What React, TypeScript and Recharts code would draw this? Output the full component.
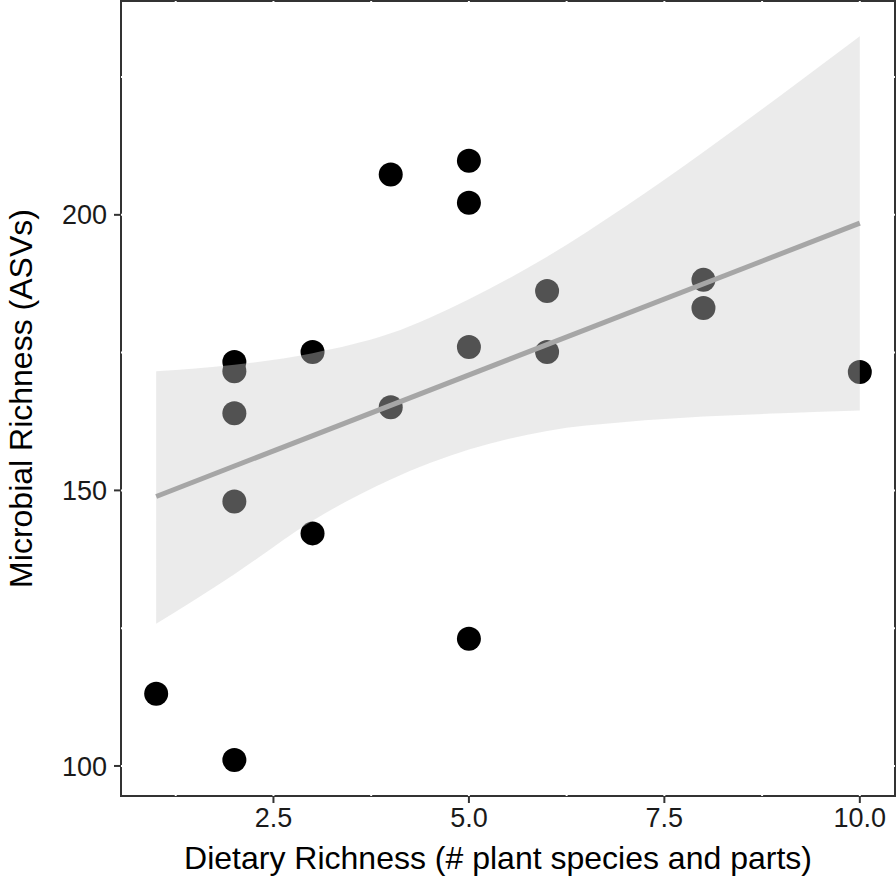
import React from 'react';
import {
  ComposedChart,
  Scatter,
  Area,
  Line,
  XAxis,
  YAxis,
  ReferenceArea,
  ReferenceLine,
} from 'recharts';

// observed samples
const dietaryRichness = [1, 2, 2, 2, 2, 2, 3, 3, 4, 4, 5, 5, 5, 5, 6, 6, 8, 8, 10];
const microbialRichness = [
  113.1, 101.1, 173.3, 171.6, 164.0, 148.0, 175.1, 142.2, 207.3, 165.1,
  209.8, 202.2, 176.0, 123.1, 186.2, 175.1, 188.2, 183.1, 171.5,
];

// lm fit and 95% band
const fitX = [1, 10];
const fitY = [148.9, 198.5];
const bandX = [1, 2, 3, 4, 5, 6, 7, 8, 9, 10];
const bandLow = [125.8, 134.8, 144.5, 152.0, 157.4, 160.8, 162.4, 163.4, 164.0, 164.5];
const bandHigh = [171.6, 172.8, 174.9, 178.5, 184.7, 192.4, 201.5, 211.4, 221.8, 232.4];

const xTicks = [2.5, 5, 7.5, 10];
const yTicks = [100, 150, 200];
const xGrid = [1.25, 2.5, 3.75, 5, 6.25, 7.5, 8.75, 10];
const yGrid = [100, 125, 150, 175, 200, 225];

const X_DOMAIN: [number, number] = [0.55, 10.45];
const Y_DOMAIN: [number, number] = [94.55, 238.8];

const FONT = '"Liberation Sans", Arial, Helvetica, sans-serif';

const points = dietaryRichness.map((x, i) => ({ x, y: microbialRichness[i] }));
const fit = fitX.map((x, i) => ({ x, y: fitY[i] }));
const band = bandX.map((x, i) => ({ x, range: [bandLow[i], bandHigh[i]] }));

const Dot = (props: any) => <circle cx={props.cx} cy={props.cy} r={12} fill="#000" />;

const XTitle = ({ viewBox }: any) => (
  <text
    x={viewBox.x + viewBox.width / 2 - 10}
    y={869}
    textAnchor="middle"
    fontSize={32}
    fontFamily={FONT}
    fill="#000"
  >
    Dietary Richness (# plant species and parts)
  </text>
);

const YTitle = ({ viewBox }: any) => {
  const cx = 32;
  const cy = viewBox.y + viewBox.height / 2;
  return (
    <text
      x={cx}
      y={cy}
      transform={`rotate(-90, ${cx}, ${cy})`}
      textAnchor="middle"
      fontSize={32}
      fontFamily={FONT}
      fill="#000"
    >
      Microbial Richness (ASVs)
    </text>
  );
};

export default function App() {
  return (
    <div style={{ position: 'absolute', left: 0, top: 0, width: 896, height: 893, background: '#fff' }}>
      <ComposedChart width={896} height={893} margin={{ top: 1, right: 1, bottom: 0, left: 0 }}>
        <ReferenceArea
          x1={X_DOMAIN[0]}
          x2={X_DOMAIN[1]}
          y1={Y_DOMAIN[0]}
          y2={Y_DOMAIN[1]}
          fill="#fff"
          fillOpacity={1}
          stroke="#333"
          strokeWidth={2}
          ifOverflow="visible"
          zIndex={10}
        />
        {xGrid.map((v) => (
          <ReferenceLine key={'gx' + v} x={v} stroke="#fff" strokeWidth={2} zIndex={20} />
        ))}
        {yGrid.map((v) => (
          <ReferenceLine key={'gy' + v} y={v} stroke="#fff" strokeWidth={2} zIndex={20} />
        ))}
        <XAxis
          type="number"
          dataKey="x"
          domain={X_DOMAIN}
          ticks={xTicks}
          allowDataOverflow
          tickFormatter={(v: number) => v.toFixed(1)}
          axisLine={false}
          tickLine={{ stroke: '#333', strokeWidth: 2 }}
          tickSize={7}
          tickMargin={5}
          tick={{ fill: '#1a1a1a', fontSize: 27, fontFamily: FONT }}
          height={97}
          label={<XTitle />}
        />
        <YAxis
          type="number"
          dataKey="y"
          domain={Y_DOMAIN}
          ticks={yTicks}
          allowDataOverflow
          axisLine={false}
          tickLine={{ stroke: '#333', strokeWidth: 2 }}
          tickSize={7}
          tickMargin={7}
          tick={{ fill: '#1a1a1a', fontSize: 27, fontFamily: FONT }}
          width={121}
          label={<YTitle />}
        />
        <Scatter data={points} shape={Dot} isAnimationActive={false} zIndex={30} />
        <Area
          data={band}
          dataKey="range"
          type="monotone"
          fill="#cccccc"
          fillOpacity={0.4}
          stroke="none"
          isAnimationActive={false}
          zIndex={100}
        />
        <Line
          data={fit}
          dataKey="y"
          stroke="#a6a6a6"
          strokeWidth={5}
          dot={false}
          activeDot={false}
          isAnimationActive={false}
          zIndex={400}
        />
      </ComposedChart>
    </div>
  );
}
